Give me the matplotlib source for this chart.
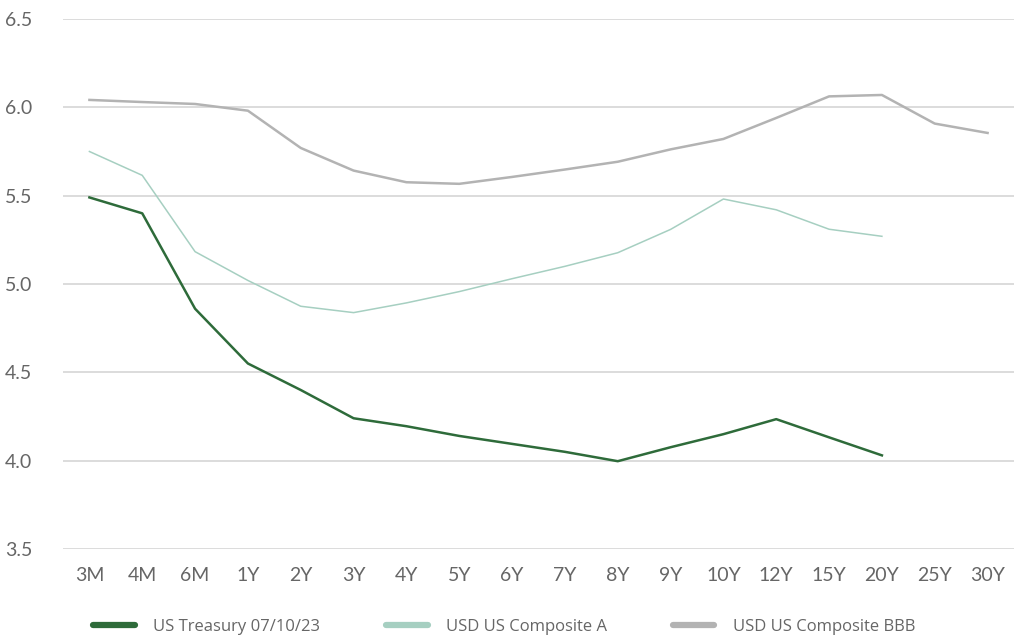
import numpy as np
import matplotlib.pyplot as plt
from matplotlib.lines import Line2D

tenors = ['3M', '4M', '6M', '1Y', '2Y', '3Y', '4Y', '5Y', '6Y', '7Y',
          '8Y', '9Y', '10Y', '12Y', '15Y', '20Y', '25Y', '30Y']

treasury = [5.49, 5.40, 4.86, 4.55, 4.40, 4.24, 4.195, 4.14, 4.095, 4.05,
            3.997, 4.076, 4.15, 4.235, 4.132, 4.03, np.nan, np.nan]
comp_a = [5.75, 5.615, 5.183, 5.02, 4.874, 4.838, 4.893, 4.957, 5.03, 5.10,
          5.177, 5.309, 5.481, 5.42, 5.31, 5.27, np.nan, np.nan]
comp_bbb = [6.042, 6.03, 6.019, 5.981, 5.77, 5.642, 5.576, 5.567, 5.606, 5.648,
            5.692, 5.762, 5.821, 5.94, 6.062, 6.07, 5.908, 5.855]

labels = ['US Treasury 07/10/23', 'USD US Composite A', 'USD US Composite BBB']
colors = ['#2e6b3a', '#a6cfc1', '#b3b3b3']

fig = plt.figure(figsize=(10.14, 6.43), dpi=100)
ax = fig.add_axes([63 / 1014, 1 - 549 / 643, 1 - 63 / 1014, 530 / 643])

x = np.arange(len(tenors))
ax.plot(x, treasury, color=colors[0], lw=1.8)
ax.plot(x, comp_a, color=colors[1], lw=1.1)
ax.plot(x, comp_bbb, color=colors[2], lw=1.8)

ax.set_xlim(-0.5, len(tenors) - 0.5)
ax.set_ylim(3.5, 6.5)
ax.set_yticks(np.arange(3.5, 6.51, 0.5))
ax.set_yticklabels([f'{v:.1f}' for v in np.arange(3.5, 6.51, 0.5)])
ax.set_xticks(x)
ax.set_xticklabels(tenors)
ax.grid(axis='y', color='#d9d9d9', lw=1.3)
ax.set_axisbelow(True)
for s in ax.spines.values():
    s.set_visible(False)
ax.tick_params(axis='both', length=0, labelcolor='#666666', labelsize=14)
ax.tick_params(axis='y', pad=22)
ax.tick_params(axis='x', pad=13)
for t in ax.get_xticklabels() + ax.get_yticklabels():
    t.set_family('Lato')

handles = [Line2D([], [], color=c, lw=4.5, solid_capstyle='round') for c in colors]
fig.legend(handles, labels, loc='center left', bbox_to_anchor=(0.077, 0.025),
           ncol=3, frameon=False, handlelength=2.5, handletextpad=1.1,
           columnspacing=3.95, prop={'family': 'Open Sans', 'size': 12},
           labelcolor='#666666')

fig.savefig('out.png', dpi=100)
